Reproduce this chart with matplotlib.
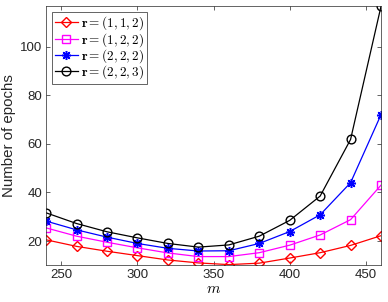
import numpy as np
import matplotlib
matplotlib.use('Agg')
import matplotlib.pyplot as plt

plt.rcParams['font.family'] = ['Liberation Sans', 'DejaVu Sans']
plt.rcParams['mathtext.fontset'] = 'cm'

m = [240, 260, 280, 300, 320, 340, 360, 380, 400, 420, 440, 460]
r112 = [20.5, 17.8, 15.8, 14.0, 12.2, 11.0, 10.3, 10.9, 13.0, 15.2, 18.2, 22.2]
r122 = [25.4, 22.0, 19.5, 17.2, 15.1, 13.6, 13.6, 15.2, 18.3, 22.5, 28.8, 43.0]
r222 = [28.2, 24.6, 21.6, 19.0, 17.0, 15.9, 16.0, 19.0, 23.9, 30.8, 44.0, 72.0]
r223 = [31.6, 27.2, 23.8, 21.3, 19.0, 17.5, 18.4, 22.0, 28.5, 38.5, 61.8, 116.6]

labels = [r'$\mathbf{r}=(1,1,2)$', r'$\mathbf{r}=(1,2,2)$',
          r'$\mathbf{r}=(2,2,2)$', r'$\mathbf{r}=(2,2,3)$']

fig = plt.figure(figsize=(3.88, 3.02), dpi=100)
ax = fig.add_axes([0.119, 0.123, 0.863, 0.857])

ax.plot(m, r112, color='red', marker='D', ms=5.5, mfc='none', mew=1, lw=0.9, label=labels[0])
ax.plot(m, r122, color='magenta', marker='s', ms=5.5, mfc='none', mew=1, lw=0.9, label=labels[1])
ax.plot(m, r222, color='blue', marker=(8, 2, 0), ms=6.5, mew=1.1, lw=0.9, label=labels[2])
ax.plot(m, r223, color='black', marker='o', ms=6.3, mfc='none', mew=1, lw=0.9, label=labels[3])

ax.set_xlim(240, 460)
ax.set_ylim(10.2, 116.7)
ax.set_xticks([250, 300, 350, 400, 450])
ax.set_yticks([20, 40, 60, 80, 100])
ax.tick_params(direction='in', top=True, right=True, labelsize=9.5, length=3,
               width=0.5, colors='#262626', pad=3)
for s in ax.spines.values():
    s.set_linewidth(0.5)
    s.set_color('#262626')

ax.set_xlabel(r'$m$', fontsize=11, labelpad=1)
ax.set_ylabel('Number of epochs', fontsize=10.8, color='#262626', labelpad=3)

leg = ax.legend(loc='upper left', fontsize=9.5, fancybox=False, framealpha=1,
                edgecolor='#262626', handlelength=1.75, handletextpad=0.25,
                borderpad=0.2, labelspacing=-0.12, borderaxespad=0.45)
leg.get_frame().set_linewidth(0.5)

fig.savefig('out.png', dpi=100)
